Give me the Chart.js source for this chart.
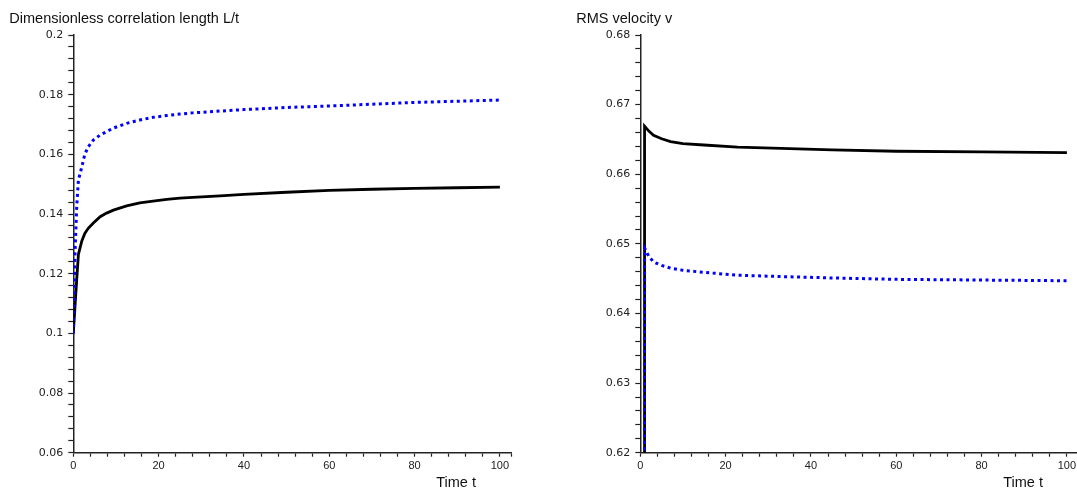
<!DOCTYPE html>
<html>
<head>
<meta charset="utf-8">
<script src="https://cdn.jsdelivr.net/npm/chart.js@4.4.1/dist/chart.umd.min.js"></script>
<style>
  html, body { margin: 0; padding: 0; background: #fff; overflow: hidden; }
  #wrap { position: relative; width: 1077px; height: 488px; overflow: hidden; }
  .panel { position: absolute; top: 0; width: 567px; height: 488px; }
</style>
</head>
<body>
<div id="wrap">
  <div class="panel" style="left:0"><canvas id="lenChart" width="567" height="488"></canvas></div>
  <div class="panel" style="left:567px"><canvas id="velChart" width="567" height="488"></canvas></div>
</div>
<script>
// left panel: dimensionless correlation length L/t
const timeL = [0, 0.4, 0.8, 1.2, 2, 2.7, 3.5, 4.7, 6.3, 7.8, 9.4, 12.5, 15.6, 18.7, 21.9, 25, 28, 34.4, 40, 50, 60, 70, 80, 90, 100];
const lenBlack = [0.100, 0.109, 0.118, 0.1265, 0.1310, 0.1335, 0.1352, 0.1370, 0.1391, 0.1403, 0.1413, 0.1427, 0.1437, 0.1443, 0.1449, 0.1453, 0.1456, 0.1461, 0.1466, 0.1473, 0.1479, 0.1483, 0.1486, 0.1488, 0.1490];
const lenBlue = [0.100, 0.1269, 0.1424, 0.1514, 0.1558, 0.1600, 0.1625, 0.1648, 0.1665, 0.1676, 0.1688, 0.1704, 0.1715, 0.1724, 0.1730, 0.1735, 0.1739, 0.1745, 0.1750, 0.1757, 0.1762, 0.1768, 0.1774, 0.1778, 0.1782];

// right panel: RMS velocity v
const timeR = [0.9, 1, 2, 3.1, 5, 7.1, 10, 14.9, 22.8, 33, 45, 60, 80, 100];
const velBlack = [0.40, 0.6669, 0.6662, 0.6656, 0.6651, 0.6647, 0.6644, 0.6642, 0.6639, 0.6637, 0.6635, 0.6633, 0.6632, 0.6631];
const velBlue = [0.40, 0.6494, 0.6482, 0.6474, 0.6469, 0.6465, 0.6462, 0.6459, 0.6455, 0.6453, 0.6451, 0.6449, 0.6448, 0.6447];

// axes
const xMin = 0, xMax = 102.6, xStep = 4;
const xLabels = [0, 20, 40, 60, 80, 100];
const yRangeL = [0.06, 0.2], yStepL = 0.004, yLabelStepL = 0.02;
const yRangeR = [0.62, 0.68], yStepR = 0.002, yLabelStepR = 0.01;

const titleL = 'Dimensionless correlation length L/t';
const titleR = 'RMS velocity v';
const xTitle = 'Time t';

const axisColor = '#222';

function pts(xs, ys) {
  return xs.map((x, i) => ({ x: x, y: ys[i] }));
}

function makeTicks(min, max, step) {
  const out = [];
  const n = Math.floor((max - min) / step + 1e-9);
  for (let i = 0; i <= n; i++) out.push(+(min + i * step).toFixed(6));
  if (out[out.length - 1] < max - 1e-9) out.push(max);
  return out;
}

function isMultiple(v, step) {
  return Math.abs(Math.round(v / step) * step - v) < 1e-7;
}

// axis titles drawn as plain text
const labelsPlugin = {
  id: 'axisText',
  afterDraw(chart, args, opts) {
    const c = chart.ctx, a = chart.chartArea;
    c.save();
    c.fillStyle = '#111';
    c.font = '14.5px "Liberation Sans", Arial, sans-serif';
    c.textAlign = 'left';
    c.textBaseline = 'alphabetic';
    c.fillText(opts.title, a.left - 64, 23);
    c.textAlign = 'right';
    c.fillText(xTitle, chart.scales.x.getPixelForValue(100) - 24, 487);
    c.restore();
  }
};

function makeChart(id, title, sets, yRange, yStep, yLabelStep) {
  return new Chart(document.getElementById(id), {
    type: 'line',
    data: {
      datasets: [{
        data: sets[0],
        borderColor: '#000',
        borderWidth: 2.8,
        pointRadius: 0,
        tension: 0,
        order: 1
      }, {
        // dotted blue sits on top of the black curve
        data: sets[1],
        borderColor: '#0000ff',
        borderWidth: 3,
        borderDash: [3, 3.5],
        borderCapStyle: 'butt',
        pointRadius: 0,
        tension: 0,
        order: 0
      }]
    },
    options: {
      responsive: false,
      animation: false,
      devicePixelRatio: 1,
      layout: { padding: { top: 35, right: 56, left: 0, bottom: 0 } },
      plugins: {
        legend: { display: false },
        tooltip: { enabled: false },
        axisText: { title: title }
      },
      scales: {
        x: {
          type: 'linear',
          min: xMin,
          max: xMax,
          afterBuildTicks: s => { s.ticks = makeTicks(xMin, xMax, xStep).map(v => ({ value: v })); },
          afterFit: s => { s.height = 35.3; },
          grid: { drawOnChartArea: false, drawTicks: true, tickLength: 4, tickColor: axisColor, tickWidth: 1.2 },
          border: { display: true, color: axisColor, width: 1.5 },
          ticks: {
            autoSkip: false,
            maxRotation: 0,
            padding: 3,
            color: '#222',
            font: { family: '"Liberation Sans", Arial, sans-serif', size: 11 },
            callback: v => xLabels.includes(v) ? String(v) : ''
          }
        },
        y: {
          type: 'linear',
          min: yRange[0],
          max: yRange[1],
          afterBuildTicks: s => { s.ticks = makeTicks(yRange[0], yRange[1], yStep).map(v => ({ value: v })); },
          afterFit: s => { s.width = 73.3; },
          grid: { drawOnChartArea: false, drawTicks: true, tickLength: 5, tickColor: axisColor, tickWidth: 1.2 },
          border: { display: true, color: axisColor, width: 1.5 },
          ticks: {
            autoSkip: false,
            padding: 5,
            color: '#222',
            font: { family: '"DejaVu Sans", sans-serif', size: 11 },
            callback: v => isMultiple(v - yRange[0], yLabelStep) ? String(+v.toFixed(3)) : ''
          }
        }
      }
    },
    plugins: [labelsPlugin]
  });
}

makeChart('lenChart', titleL, [pts(timeL, lenBlack), pts(timeL, lenBlue)], yRangeL, yStepL, yLabelStepL);
makeChart('velChart', titleR, [pts(timeR, velBlack), pts(timeR, velBlue)], yRangeR, yStepR, yLabelStepR);
</script>
</body>
</html>
